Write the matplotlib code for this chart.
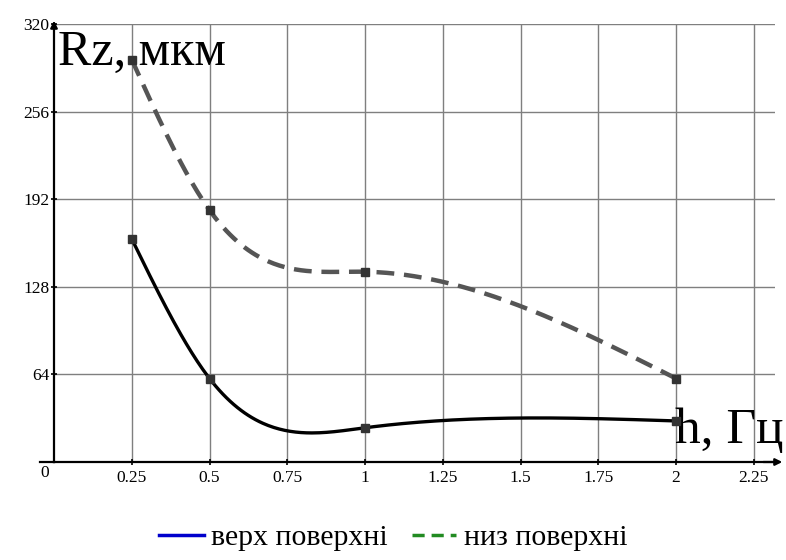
import numpy as np
import matplotlib
matplotlib.use("Agg")
import matplotlib.pyplot as plt
from matplotlib.lines import Line2D

plt.rcParams['font.family'] = ['Liberation Serif', 'DejaVu Serif']

# data
h_freq = [0.25, 0.5, 1.0, 2.0]
rz_top = [163, 61, 25, 30]      # верх поверхні (solid)
rz_bottom = [294, 184, 139, 61]  # низ поверхні (dashed)

xticks = [0.25, 0.5, 0.75, 1, 1.25, 1.5, 1.75, 2, 2.25]
xtick_labels = ["0.25", "0.5", "0.75", "1", "1.25", "1.5", "1.75", "2", "2.25"]
yticks = [64, 128, 192, 256, 320]


def natural_spline(x, y, xs):
    x = np.asarray(x, float)
    y = np.asarray(y, float)
    n = len(x)
    h = np.diff(x)
    A = np.zeros((n, n))
    b = np.zeros(n)
    A[0, 0] = 1
    A[-1, -1] = 1
    for i in range(1, n - 1):
        A[i, i - 1] = h[i - 1]
        A[i, i] = 2 * (h[i - 1] + h[i])
        A[i, i + 1] = h[i]
        b[i] = 6 * ((y[i + 1] - y[i]) / h[i] - (y[i] - y[i - 1]) / h[i - 1])
    M = np.linalg.solve(A, b)
    out = np.empty_like(xs)
    for j, t in enumerate(xs):
        i = min(np.searchsorted(x, t) - 1, n - 2)
        i = max(i, 0)
        a = x[i + 1] - t
        c = t - x[i]
        out[j] = (M[i] * a**3 + M[i + 1] * c**3) / (6 * h[i]) \
            + (y[i] / h[i] - M[i] * h[i] / 6) * a \
            + (y[i + 1] / h[i] - M[i + 1] * h[i] / 6) * c
    return out


fig = plt.figure(figsize=(7.86, 5.6), dpi=100)
ax = fig.add_axes([54 / 786, 1 - 462 / 560, (775 - 54) / 786, (462 - 24) / 560])
ax.set_xlim(0, 2.318)
ax.set_ylim(0, 320)

xs = np.linspace(h_freq[0], h_freq[-1], 300)
ax.plot(xs, natural_spline(h_freq, rz_top, xs), color="black", lw=2.4, zorder=3)
ax.plot(xs, natural_spline(h_freq, rz_bottom, xs), color="#555555", lw=3.2,
        dashes=(4, 2.2), zorder=3)
ax.plot(h_freq, rz_top, "s", color="#333333", ms=6, zorder=4)
ax.plot(h_freq, rz_bottom, "s", color="#333333", ms=6, zorder=4)

ax.set_xticks(xticks)
ax.set_xticklabels(xtick_labels)
ax.set_yticks(yticks)
ax.grid(True, color="#7f7f7f", lw=1)
ax.tick_params(labelsize=12.5, length=5, direction="inout", color="black", width=1.2)
ax.tick_params(axis="y", pad=1)
for s in ["top", "right"]:
    ax.spines[s].set_visible(False)
for s in ["left", "bottom"]:
    ax.spines[s].set_linewidth(1.6)
ax.plot([-0.045, 0], [0, 0], color="black", lw=1.6, clip_on=False)
ax.text(-0.015, -2, "0", fontsize=12.5, ha="right", va="top")

# arrows on axes
ax.annotate("", xy=(1.014, 0), xycoords="axes fraction", xytext=(0.98, 0),
            arrowprops=dict(arrowstyle="-|>", color="black", lw=1.6, mutation_scale=10),
            annotation_clip=False)
ax.annotate("", xy=(0, 1.014), xycoords="axes fraction", xytext=(0, 0.98),
            arrowprops=dict(arrowstyle="-|>", color="black", lw=1.6, mutation_scale=10),
            annotation_clip=False)

ax.text(0.006, 0.988, "Rz, мкм", transform=ax.transAxes, fontsize=36,
        ha="left", va="top")
ax.text(1.998, 14, "h, Гц", fontsize=37, ha="left", va="baseline")

handles = [Line2D([], [], color="#0000cc", lw=2.5),
           Line2D([], [], color="#228b22", lw=2.5, dashes=(3.5, 2))]
fig.legend(handles, ["верх поверхні", "низ поверхні"], loc="center",
           bbox_to_anchor=(0.5, 1 - 538 / 560), ncol=2, frameon=False,
           fontsize=21.5, handlelength=1.5, handletextpad=0.25, columnspacing=0.8)

fig.savefig("out.png", dpi=100)
